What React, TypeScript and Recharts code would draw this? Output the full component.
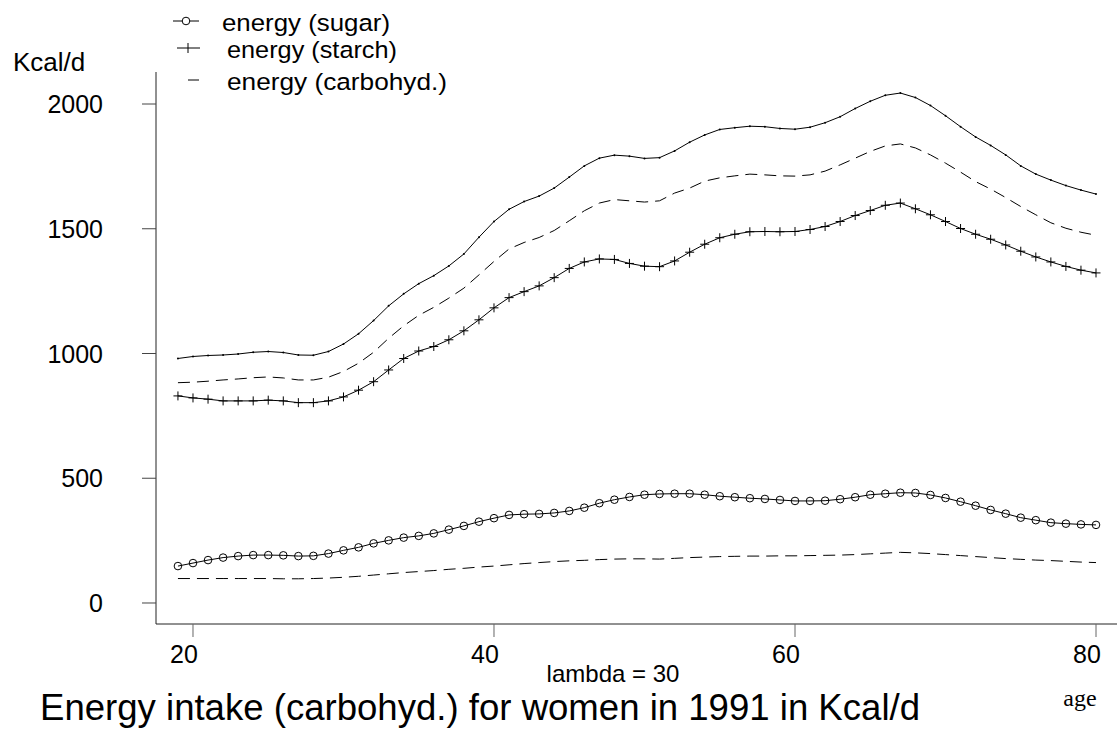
import React from "react";
import { LineChart, Line, XAxis, YAxis } from "recharts";

const ages = [
  19, 20, 21, 22, 23, 24, 25, 26, 27, 28, 29, 30, 31, 32, 33, 34, 35, 36, 37, 38, 39,
  40, 41, 42, 43, 44, 45, 46, 47, 48, 49, 50, 51, 52, 53, 54, 55, 56, 57, 58, 59,
  60, 61, 62, 63, 64, 65, 66, 67, 68, 69, 70, 71, 72, 73, 74, 75, 76, 77, 78, 79, 80,
];

const sugar = [
  148, 160, 172, 182, 188, 192, 192, 191, 188, 189, 198, 211, 223, 239, 251, 262, 269, 279, 294, 309, 326,
  340, 353, 356, 357, 361, 369, 382, 400, 414, 425, 434, 437, 438, 438, 434, 428, 424, 420, 417, 413,
  409, 409, 410, 416, 424, 434, 438, 442, 441, 433, 421, 406, 390, 373, 358, 342, 332, 322, 318, 315, 313,
];

const starch = [
  830, 822, 817, 810, 810, 810, 813, 810, 803, 803, 810, 826, 853, 887, 934, 980, 1010, 1028, 1055, 1091, 1135,
  1183, 1224, 1248, 1271, 1304, 1341, 1367, 1379, 1377, 1361, 1350, 1348, 1371, 1406, 1438, 1464, 1478, 1488, 1489, 1488,
  1489, 1497, 1509, 1529, 1553, 1573, 1594, 1603, 1580, 1556, 1529, 1501, 1478, 1458, 1435, 1410, 1387, 1367, 1349, 1334, 1323,
];

const carbohyd = [
  980, 988, 992, 994, 998, 1005, 1008, 1004, 994, 993, 1008, 1038, 1079, 1132, 1191, 1239, 1280, 1312, 1351, 1399, 1466,
  1529, 1578, 1609, 1631, 1663, 1707, 1752, 1783, 1795, 1791, 1782, 1785, 1812, 1847, 1876, 1898, 1905, 1911, 1909, 1902,
  1899, 1907, 1925, 1949, 1982, 2011, 2035, 2044, 2026, 1994, 1953, 1909, 1868, 1834, 1796, 1752, 1719, 1695, 1673, 1655, 1639,
];

const dashedUpper = [
  883, 885, 889, 894, 898, 903, 906, 902, 894, 894, 905, 928, 961, 1005, 1061, 1111, 1153, 1185, 1222, 1262, 1315,
  1369, 1419, 1445, 1465, 1493, 1532, 1572, 1603, 1617, 1612, 1607, 1612, 1643, 1663, 1691, 1704, 1712, 1719, 1716, 1712,
  1711, 1716, 1731, 1756, 1783, 1810, 1832, 1840, 1824, 1796, 1763, 1727, 1689, 1659, 1625, 1589, 1556, 1524, 1502, 1486, 1474,
];

const dashedLower = [
  98, 98, 98, 98, 98, 98, 98, 97, 97, 98, 100, 103, 107, 112, 117, 122, 126, 130, 135, 139, 144,
  148, 153, 158, 162, 166, 169, 171, 174, 176, 177, 177, 176, 179, 182, 184, 186, 187, 188, 188, 189,
  189, 190, 191, 192, 194, 197, 200, 203, 201, 198, 194, 190, 186, 182, 178, 175, 172, 170, 167, 164, 162,
];

const xTicks = [20, 40, 60, 80];
const yTicks = [0, 500, 1000, 1500, 2000];

const data = ages.map((age, i) => ({
  age,
  sugar: sugar[i],
  starch: starch[i],
  carbohyd: carbohyd[i],
  dashedUpper: dashedUpper[i],
  dashedLower: dashedLower[i],
}));

const SANS = "'Liberation Sans', Arial, sans-serif";

const XTick = ({ x, y, payload }: any) => (
  <text x={x - 9} y={y + 26} textAnchor="middle" fontSize={25} fontFamily={SANS} fill="#000">
    {payload.value}
  </text>
);

const YTick = ({ x, y, payload }: any) => (
  <text x={x - 39} y={y + 9} textAnchor="end" fontSize={25} fontFamily={SANS} fill="#000">
    {payload.value}
  </text>
);

const CircleDot = ({ cx, cy, index }: any) => (
  <circle key={index} cx={cx} cy={cy} r={3.8} fill="none" stroke="#000" strokeWidth={1} />
);

const PlusDot = ({ cx, cy, index }: any) => (
  <path
    key={index}
    d={`M${cx - 4.5},${cy}H${cx + 4.5}M${cx},${cy - 4.5}V${cy + 4.5}`}
    stroke="#000"
    strokeWidth={1}
    fill="none"
  />
);

const TinyDot = ({ cx, cy, index }: any) => (
  <circle key={index} cx={cx} cy={cy} r={1} fill="#000" />
);

export default function App() {
  return (
    <div style={{ position: "relative", width: 1117, height: 731, background: "#fff" }}>
      <style>{"body{margin:0;background:#fff}"}</style>
      <LineChart
        width={1117}
        height={731}
        data={data}
        margin={{ top: 72, right: 0, bottom: 77, left: 0 }}
      >
        <XAxis
          type="number"
          dataKey="age"
          domain={[17.542, 81.395]}
          ticks={xTicks}
          interval={0}
          allowDataOverflow
          height={30}
          tickSize={13}
          tickMargin={0}
          stroke="#222"
          tickLine={{ stroke: "#666" }}
          tick={<XTick />}
        />
        <YAxis
          type="number"
          domain={[-84.2, 2128.3]}
          ticks={yTicks}
          interval={0}
          allowDataOverflow
          width={156}
          tickSize={14}
          tickMargin={0}
          stroke="#222"
          tickLine={{ stroke: "#444" }}
          tick={<YTick />}
        />
        <Line
          type="linear"
          dataKey="carbohyd"
          stroke="#000"
          strokeWidth={1}
          dot={<TinyDot />}
          isAnimationActive={false}
        />
        <Line
          type="linear"
          dataKey="dashedUpper"
          stroke="#000"
          strokeWidth={1}
          strokeDasharray="12 7"
          dot={false}
          isAnimationActive={false}
        />
        <Line
          type="linear"
          dataKey="starch"
          stroke="#000"
          strokeWidth={1}
          dot={<PlusDot />}
          isAnimationActive={false}
        />
        <Line
          type="linear"
          dataKey="sugar"
          stroke="#000"
          strokeWidth={1}
          dot={<CircleDot />}
          isAnimationActive={false}
        />
        <Line
          type="linear"
          dataKey="dashedLower"
          stroke="#000"
          strokeWidth={1}
          strokeDasharray="12 7"
          dot={false}
          isAnimationActive={false}
        />
      </LineChart>

      {/* legend and labels drawn over the chart, R-plot style */}
      <svg
        width={1117}
        height={731}
        style={{ position: "absolute", left: 0, top: 0, pointerEvents: "none" }}
      >
        <g fontFamily={SANS} fill="#000">
          <line x1={173} y1={21} x2={199} y2={21} stroke="#000" strokeWidth={1} />
          <circle cx={186} cy={21} r={3.8} fill="#fff" stroke="#000" strokeWidth={1} />
          <text x={222} y={31} fontSize={24.5} textLength={168} lengthAdjust="spacingAndGlyphs">energy (sugar)</text>

          <line x1={177} y1={48} x2={200} y2={48} stroke="#000" strokeWidth={1} />
          <line x1={188} y1={43} x2={188} y2={53} stroke="#000" strokeWidth={1} />
          <text x={227} y={58} fontSize={24.5} textLength={170} lengthAdjust="spacingAndGlyphs">energy (starch)</text>

          <line x1={188} y1={80} x2={199} y2={80} stroke="#000" strokeWidth={1} />
          <text x={227} y={90} fontSize={24.5} textLength={220} lengthAdjust="spacingAndGlyphs">energy (carbohyd.)</text>

          <text x={13} y={71} fontSize={26}>Kcal/d</text>
          <text x={613} y={682} fontSize={24} textAnchor="middle">lambda = 30</text>
          <text x={40} y={720} fontSize={36} textLength={880} lengthAdjust="spacingAndGlyphs">
            Energy intake (carbohyd.) for women in 1991 in Kcal/d
          </text>
          <text x={1080} y={706} fontSize={24} textAnchor="middle" fontFamily="'Liberation Serif', 'Times New Roman', serif">
            age
          </text>
        </g>
      </svg>
    </div>
  );
}
